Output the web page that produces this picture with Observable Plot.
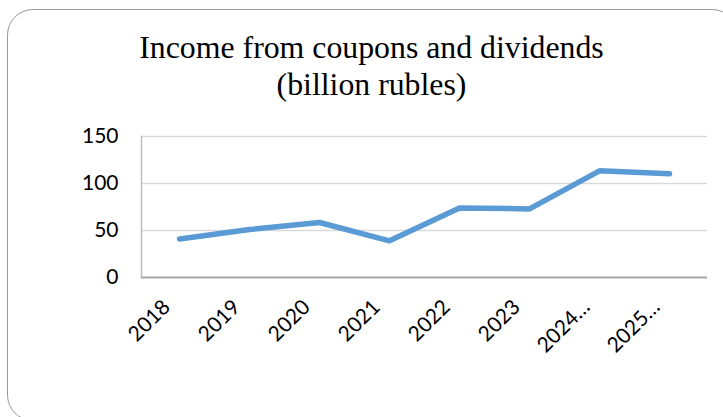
<!DOCTYPE html>
<html>
<head>
<meta charset="utf-8">
<script src="https://cdn.jsdelivr.net/npm/d3@7"></script>
<script src="https://cdn.jsdelivr.net/npm/@observablehq/plot@0.6"></script>
<style>
  html, body { margin: 0; padding: 0; background: #fff; }
  #wrap { position: relative; width: 723px; height: 417px; overflow: hidden; background: #fff; }
  #border { position: absolute; left: 7px; top: 9px; width: 731px; height: 412px;
            border: 1.5px solid #9a9a9a; border-radius: 26px; box-sizing: border-box; }
  #title { position: absolute; left: 0; top: 29px; width: 743px; text-align: center;
           font-family: "Liberation Serif", "Times New Roman", serif; font-size: 31.8px;
           line-height: 37px; color: #000; }
  #chart { position: absolute; left: 0; top: 115px; }
</style>
</head>
<body>
<div id="wrap">
  <div id="border"></div>
  <div id="title">Income from coupons and dividends<br>(billion rubles)</div>
  <div id="chart"></div>
</div>
<script>
const years = ["2018", "2019", "2020", "2021", "2022", "2023", "2024…", "2025…"];
const values = [41, 51, 58.5, 39, 74, 73, 113.5, 110.5];
const yTicks = [0, 50, 100, 150];

const data = years.map((year, i) => ({year, value: values[i]}));

const chart = Plot.plot({
  width: 723,
  height: 302,
  marginTop: 21,
  marginBottom: 140,
  marginLeft: 141,
  marginRight: 16,
  style: {fontFamily: "Lato, sans-serif", fontSize: "21px", color: "#000", background: "transparent"},
  x: {type: "point", domain: years, padding: 0.5, label: null},
  y: {domain: [0, 150], label: null},
  marks: [
    Plot.ruleY(yTicks.filter(d => d > 0), {stroke: "#d9d9d9", strokeWidth: 1.5}),
    Plot.frame({anchor: "left", stroke: "#bfbfbf", strokeWidth: 1.5}),
    Plot.ruleY([0], {stroke: "#a6a6a6", strokeWidth: 1.8}),
    Plot.axisY({ticks: yTicks, tickSize: 0, tickPadding: 23, label: null}),
    Plot.axisX({tickSize: 0, tickRotate: -45, tickPadding: 26, dx: -13, label: null}),
    Plot.line(data, {x: "year", y: "value", stroke: "#5b9bd5", strokeWidth: 5.5,
                     strokeLinecap: "round", strokeLinejoin: "round"})
  ]
});
document.getElementById("chart").appendChild(chart);
</script>
</body>
</html>
